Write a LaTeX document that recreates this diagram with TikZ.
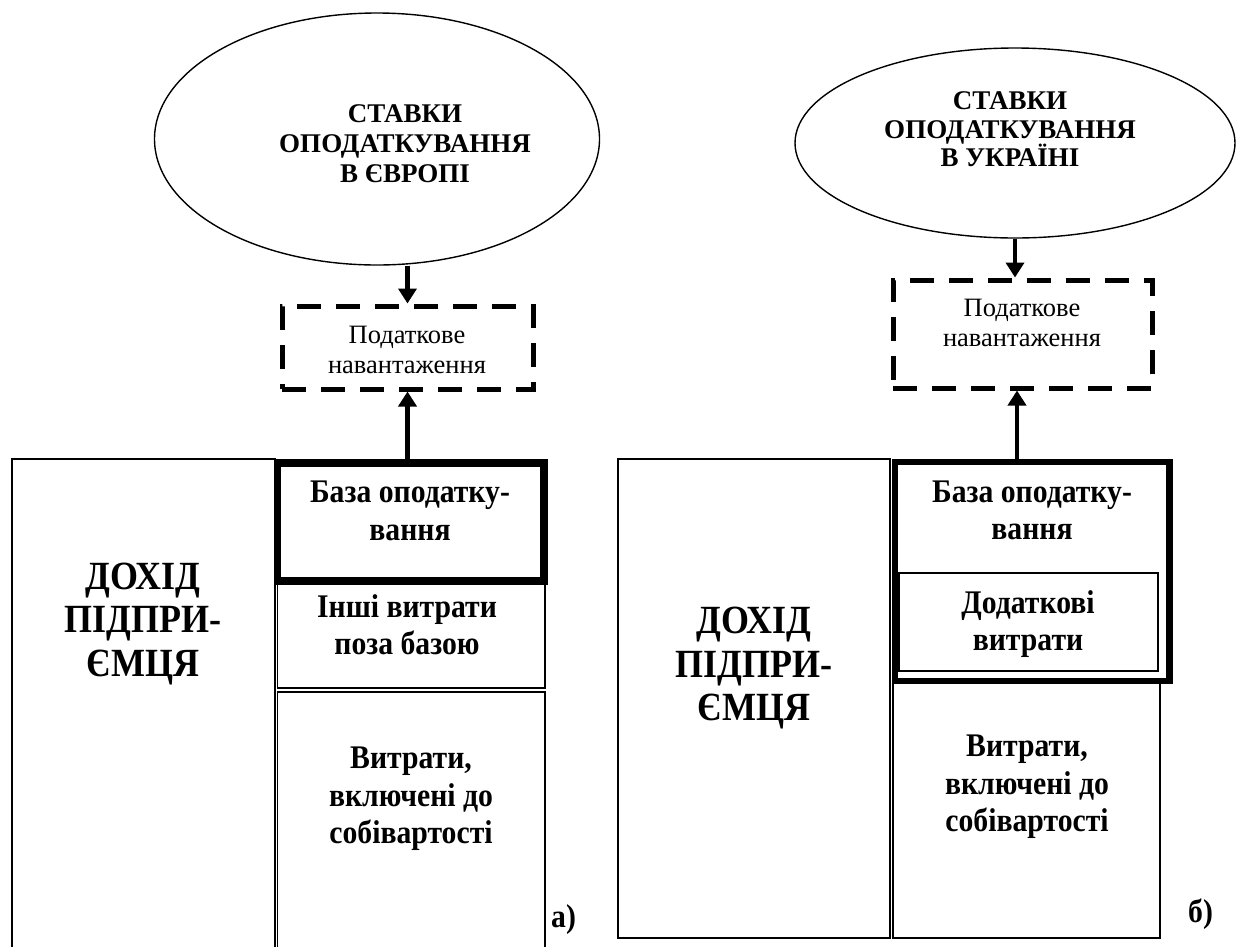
\documentclass[tikz,border=0pt]{standalone}
\usepackage{fontspec}
\setmainfont{Liberation Serif}
% narrow cut of the same serif for the box texts
\newfontfamily\narrowserif[FakeStretch=0.9]{Liberation Serif}
\usetikzlibrary{arrows.meta,shapes.geometric}
\begin{document}
\begin{tikzpicture}[x=1pt,y=-1pt,
  oval/.style={draw,ellipse,line width=1.4pt,inner sep=0pt},
  cell/.style={draw,rectangle,inner sep=0pt,line width=1.6pt},
  thickcell/.style={draw,rectangle,inner sep=0pt,line width=7.5pt},
  dashcell/.style={draw,rectangle,inner sep=0pt,line width=5pt,dash pattern=on 24pt off 15pt},
  txt/.style={align=center,inner sep=0pt,execute at begin node=\strut,execute at end node=\strut},
  ovaltxt/.style={txt,font=\fontsize{27}{30}\selectfont\bfseries},
  loadtxt/.style={txt,font=\fontsize{26.5}{30}\selectfont},
  celltxt/.style={txt,font=\narrowserif\fontsize{33}{37.5}\selectfont\bfseries},
  bigtxt/.style={txt,font=\narrowserif\fontsize{40}{43.5}\selectfont\bfseries},
  lab/.style={inner sep=0pt,font=\narrowserif\fontsize{33}{38}\selectfont\bfseries},
  arr/.style={line width=4.5pt,-{Triangle[width=18pt,length=15pt]}}
]
\useasboundingbox (0,0) rectangle (1236,946);
\clip (0,0) rectangle (1236,946);

% ---------- panel a) : Europe ----------
\node[oval,minimum width=445pt,minimum height=252pt] (ellEU) at (377,139) {};
\node[ovaltxt] (ellEUtxt) at (405,148) {СТАВКИ\\ОПОДАТКУВАННЯ\\В ЄВРОПІ};

\node[dashcell,minimum width=251pt,minimum height=83pt] (dEU) at (407.5,347.5) {};
\node[loadtxt] (dEUtxt) at (407,354) {Податкове\\навантаження};

\node[cell,line width=2.7pt,minimum width=263pt,minimum height=521pt] (incEU) at (143.5,719.5) {};
\node[bigtxt] (incEUtxt) at (143,626) {ДОХІД\\ПІДПРИ-\\ЄМЦЯ};

\node[cell,minimum width=267.5pt,minimum height=107pt] (othEU) at (411.25,634.5) {};
\node[celltxt] (othEUtxt) at (407,630) {Інші витрати\\поза базою};

\node[cell,minimum width=267.5pt,minimum height=288pt] (costEU) at (411.25,836) {};
\node[celltxt] (costEUtxt) at (411,801) {Витрати,\\включені до\\собівартості};

\node[thickcell,minimum width=266.5pt,minimum height=118pt] (baseEU) at (410.75,522) {};
\node[celltxt] (baseEUtxt) at (410,516.5) {База оподатку-\\вання};

\node[lab,anchor=base west] (labA) at (551,927) {а)};

\draw[arr] (ellEU.south -| dEU.north) -- (dEU.north);
\draw[arr] (dEU.south |- baseEU.north) -- (dEU.south);

% ---------- panel б) : Ukraine ----------
\node[oval,minimum width=440pt,minimum height=190pt] (ellUA) at (1015,143) {};
\node[ovaltxt,font=\fontsize{27}{28.5}\selectfont\bfseries] (ellUAtxt) at (1010,133.5) {СТАВКИ\\ОПОДАТКУВАННЯ\\В УКРАЇНІ};

\node[dashcell,minimum width=259pt,minimum height=108pt] (dUA) at (1022.5,334) {};
\node[loadtxt] (dUAtxt) at (1022,327) {Податкове\\навантаження};

\node[cell,line width=1.8pt,minimum width=272pt,minimum height=479pt] (incUA) at (754,698.5) {};
\node[bigtxt] (incUAtxt) at (754,670.5) {ДОХІД\\ПІДПРИ-\\ЄМЦЯ};

\node[cell,line width=1.8pt,minimum width=267pt,minimum height=255pt] (costUA) at (1026.5,810.5) {};
\node[celltxt] (costUAtxt) at (1027,789) {Витрати,\\включені до\\собівартості};

\node[thickcell,line width=6.5pt,minimum width=274.5pt,minimum height=219pt] (baseUA) at (1032.25,571.5) {};
\node[celltxt] (baseUAtxt) at (1032,516) {База оподатку-\\вання};

\node[cell,line width=1.8pt,minimum width=259pt,minimum height=98pt] (addUA) at (1028.5,622) {};
\node[celltxt] (addUAtxt) at (1028,626) {Додаткові\\витрати};

\node[lab,anchor=base west] (labB) at (1188,922) {б)};

\coordinate (upUA) at (1017,462);
\draw[arr] (ellUA.south) -- (ellUA.south |- dUA.north);
\draw[arr] (upUA) -- (upUA |- dUA.south);
\end{tikzpicture}
\end{document}
